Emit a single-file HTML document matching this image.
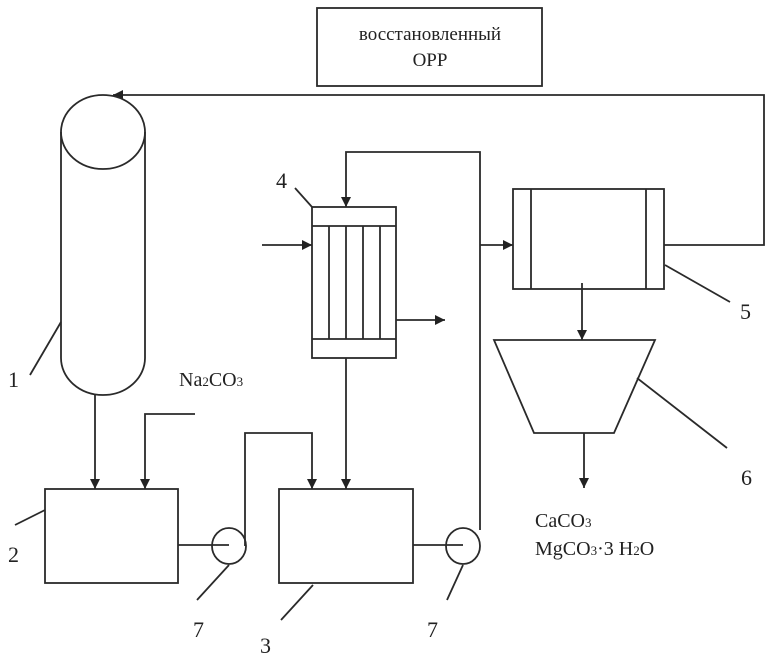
<!DOCTYPE html>
<html><head><meta charset="utf-8"><style>
html,body{margin:0;padding:0;background:#fff;}
svg{display:block;}
text{font-family:"Liberation Serif","DejaVu Serif",serif;fill:#222;}
</style></head><body>
<svg width="774" height="664" viewBox="0 0 774 664" xmlns="http://www.w3.org/2000/svg">
<defs>
<marker id="a" viewBox="0 0 10 10" refX="10" refY="5" markerWidth="10" markerHeight="10" markerUnits="userSpaceOnUse" orient="auto">
<path d="M0,0 L10,5 L0,10 z" fill="#222"/></marker>
</defs>
<g stroke="#2a2a2a" stroke-width="1.8" fill="none">
<rect x="317" y="8" width="225" height="78"/>
<polyline points="664,245 764,245 764,95 113,95" marker-end="url(#a)"/>
<path d="M61,132 L61,358 A42,37 0 0 0 145,358 L145,132"/>
<ellipse cx="103" cy="132" rx="42" ry="37"/>
<line x1="30" y1="375" x2="61" y2="322"/>
<rect x="312" y="207" width="84" height="151"/>
<line x1="312" y1="226" x2="396" y2="226"/>
<line x1="312" y1="339" x2="396" y2="339"/>
<line x1="329" y1="226" x2="329" y2="339"/>
<line x1="346" y1="226" x2="346" y2="339"/>
<line x1="363" y1="226" x2="363" y2="339"/>
<line x1="380" y1="226" x2="380" y2="339"/>
<line x1="295" y1="188" x2="312" y2="207"/>
<line x1="262" y1="245" x2="312" y2="245" marker-end="url(#a)"/>
<line x1="396" y1="320" x2="445" y2="320" marker-end="url(#a)"/>
<polyline points="480,530 480,152 346,152 346,207" marker-end="url(#a)"/>
<line x1="480" y1="245" x2="513" y2="245" marker-end="url(#a)"/>
<rect x="513" y="189" width="151" height="100"/>
<line x1="531" y1="189" x2="531" y2="289"/>
<line x1="646" y1="189" x2="646" y2="289"/>
<line x1="665" y1="265" x2="730" y2="302"/>
<line x1="582" y1="283" x2="582" y2="340" marker-end="url(#a)"/>
<polygon points="494,340 655,340 614,433 534,433"/>
<line x1="637" y1="378" x2="727" y2="448"/>
<line x1="584" y1="433" x2="584" y2="488" marker-end="url(#a)"/>
<rect x="45" y="489" width="133" height="94"/>
<line x1="95" y1="395" x2="95" y2="489" marker-end="url(#a)"/>
<polyline points="195,414 145,414 145,489" marker-end="url(#a)"/>
<line x1="15" y1="525" x2="45" y2="510"/>
<line x1="178" y1="545" x2="229" y2="545"/>
<ellipse cx="229" cy="546" rx="17" ry="18"/>
<polyline points="245,546 245,433 312,433 312,489" marker-end="url(#a)"/>
<line x1="197" y1="600" x2="229" y2="565"/>
<rect x="279" y="489" width="134" height="94"/>
<line x1="346" y1="358" x2="346" y2="489" marker-end="url(#a)"/>
<line x1="281" y1="620" x2="313" y2="585"/>
<line x1="413" y1="545" x2="463" y2="545"/>
<ellipse cx="463" cy="546" rx="17" ry="18"/>
<line x1="447" y1="600" x2="463" y2="565"/>
</g>
<g font-size="19" text-anchor="middle">
<text x="430" y="40">восстановленный</text>
<text x="430" y="66">ОРР</text>
</g>
<g font-size="22">
<text x="276" y="188">4</text>
<text x="740" y="319">5</text>
<text x="741" y="485">6</text>
<text x="8" y="387">1</text>
<text x="8" y="562">2</text>
<text x="193" y="637">7</text>
<text x="260" y="653">3</text>
<text x="427" y="637">7</text>
</g>
<g font-size="20">
<text x="179" y="386">Na<tspan font-size="13">2</tspan>CO<tspan font-size="13">3</tspan></text>
<text x="535" y="527">CaCO<tspan font-size="13">3</tspan></text>
<text x="535" y="555">MgCO<tspan font-size="13">3</tspan>·3 H<tspan font-size="13">2</tspan>O</text>
</g>
</svg>
</body></html>
